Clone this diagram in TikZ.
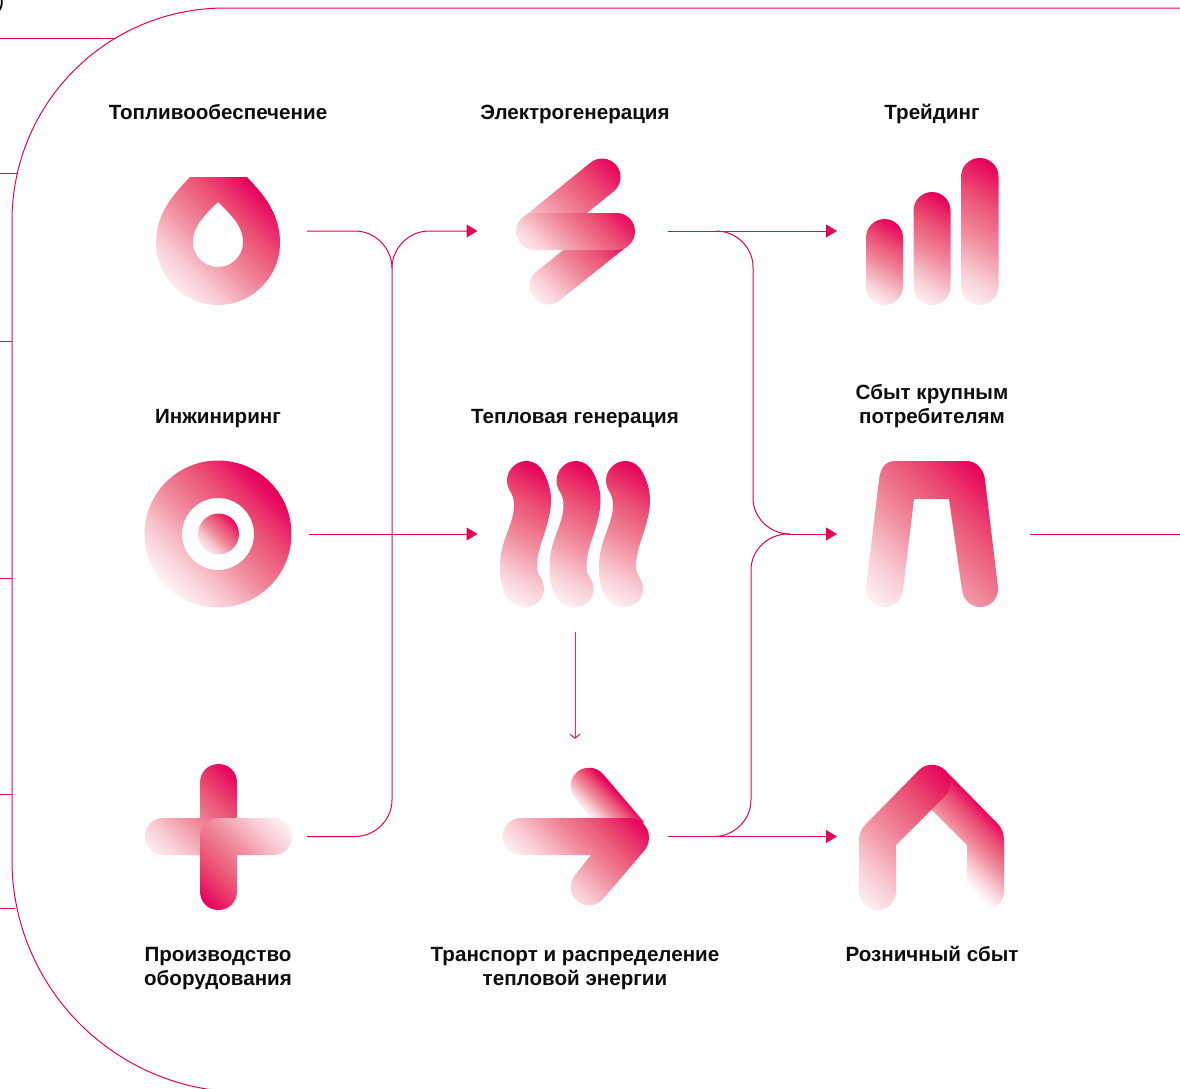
\documentclass[tikz,border=0pt]{standalone}
\usepackage{fontspec}
\setmainfont{Liberation Sans}
\usetikzlibrary{arrows.meta}
\definecolor{pk}{HTML}{E6005A}
\definecolor{pka}{HTML}{F9CDD5}
\definecolor{pkb}{HTML}{F08A9C}
\definecolor{pkc}{HTML}{EB4F74}
\pgfdeclareverticalshading{pinkgrad}{100bp}{color(0bp)=(white); color(42.5bp)=(white); color(45.94bp)=(pka); color(49.38bp)=(pkb); color(52.81bp)=(pkc); color(56.25bp)=(pk); color(100bp)=(pk)}
% cx cy L angle path: gradient of length L about (cx,cy), clipped by the path
\newcommand\gpath[5]{\begin{scope}[even odd rule]\clip #5;\shade[shading=pinkgrad,shading angle=#4] ({#1-2*#3},{#2-2*#3}) rectangle ({#1+2*#3},{#2+2*#3});\end{scope}}
\tikzset{
 link/.style={draw=pk,line width=1pt},
 flow/.style={link,-{Triangle[length=11pt,width=13pt]}},
 thin flow/.style={draw=pk!85,line width=1pt,-{Straight Barb[length=4pt,width=10pt,line width=1.2pt]}},
 label/.style={font=\fontsize{20.6}{24}\selectfont\bfseries,align=center,text=black!95,inner sep=0pt},
 one/.style={label,anchor=base},
}
\newcommand\heat{(526,461) .. controls (534,461) and (541,466) .. (544,473) .. controls (548,481) and (551,490) .. (551,500) .. controls (551,525) and (537,545) .. (537,566) .. controls (537,572) and (539,575) .. (541,578) .. controls (543,582) and (544,585) .. (544,589) .. controls (544,599) and (536,607) .. (526,607) .. controls (512,607) and (504,597) .. (502,585) .. controls (500,578) and (500,572) .. (500,566) .. controls (500,540) and (514,525) .. (514,505) .. controls (514,498) and (512,494) .. (510,491) .. controls (508,488) and (507,484) .. (507,480) .. controls (507,470) and (516,461) .. (526,461) -- cycle}
\begin{document}
\begin{tikzpicture}[x=1pt,y=-1pt]
\useasboundingbox (0,0) rectangle (1180,1088);
% coordinates of connector ends
\coordinate (fa) at (307,231);\coordinate (fb) at (307,836.5);\coordinate (fc) at (477.5,231);
\coordinate (ja) at (392,268);\coordinate (jb) at (392,800);
\coordinate (ea) at (309,534);\coordinate (eb) at (477.5,534);
\coordinate (ga) at (668,231);\coordinate (gb) at (837,231);
\coordinate (ha) at (668,836.5);\coordinate (hb) at (837,836.5);
\coordinate (ka) at (788,534);\coordinate (kb) at (837,534);
\coordinate (ra) at (1030,534);\coordinate (rb) at (1180,534);
\coordinate (da) at (575,632);\coordinate (db) at (575,739);
\coordinate (fr1) at (1180,8);
% frame stubs
\coordinate (s1a) at (0,38);\coordinate (s1b) at (115.5,38);
\coordinate (s2a) at (0,173);\coordinate (s2b) at (17.5,173);
\coordinate (s3a) at (0,341);\coordinate (s3b) at (12,341);
\coordinate (s4a) at (0,578);\coordinate (s4b) at (12,578);
\coordinate (s5a) at (0,794);\coordinate (s5b) at (12,794);
\coordinate (s6a) at (0,908.5);\coordinate (s6b) at (15,908.5);
\foreach \i in {1,...,6} \draw[link] (s\i a) -- (s\i b);
\draw[link] (fr1) -- (225,8) .. controls (107,8) and (12,103) .. (12,221) -- (12,860) .. controls (12,988) and (116,1092) .. (244,1092);
\node[font=\fontsize{21}{24}\selectfont\itshape,inner sep=0pt,text=black] (paren) at (0.5,5) {)};
% connectors
\draw[link] (fa) -- (355,231) .. controls (375,231) and (392,248) .. (ja) -- (jb) .. controls (392,820) and (375,836.5) .. (355,836.5) -- (fb);
\draw[flow] (ja) .. controls (392,248) and (409,231) .. (429,231) -- (fc);
\draw[flow] (ea) -- (eb);
\draw[flow] (ga) -- (gb);
\draw[link] (716,231) .. controls (736,231) and (753,247) .. (753,267) -- (753,498) .. controls (753,518) and (770,534) .. (790,534);
\draw[flow] (ha) -- (hb);
\draw[link] (714,836.5) .. controls (734,836.5) and (751,820) .. (751,800) -- (751,570) .. controls (751,550) and (768,534) .. (ka);
\draw[flow] (ka) -- (kb);
\draw[link] (ra) -- (rb);
\draw[thin flow] (da) -- (db);
% drop
\gpath{215}{237.5}{131}{-45}{(190,177) .. controls (175,193) and (156,212) .. (156,243) .. controls (156,277) and (184,305) .. (218,305) .. controls (252,305) and (280,277) .. (280,243) .. controls (280,212) and (262,193) .. (247,177) -- cycle (218,202) .. controls (207,213) and (193,225) .. (193,242) .. controls (193,256) and (204,267) .. (218,267) .. controls (232,267) and (243,256) .. (243,242) .. controls (243,225) and (229,213) .. (218,202) -- cycle}
% lightning
\gpath{568}{204}{125}{-45}{[shift={(535,231.5)},rotate=39.1,rounded corners=18.5pt] (-18.5,-18.5) rectangle (104.9,18.5)}
\gpath{584}{273}{105}{-45}{[shift={(548,286)},rotate=38.7,rounded corners=18.5pt] (-18.5,-18.5) rectangle (105.6,18.5)}
\gpath{575.5}{231.5}{100}{-45}{[rounded corners=18.5pt] (516,213) rectangle (635,250)}
% bars
\gpath{884.5}{262}{78}{-30}{[rounded corners=18.5pt] (866,219) rectangle (903,305)}
\gpath{932}{249}{101}{-30}{[rounded corners=18.5pt] (913.5,192) rectangle (950.5,305)}
\gpath{980}{232}{130}{-30}{[rounded corners=18.5pt] (961,158) rectangle (998.5,305)}
% ring
\gpath{218}{534}{140}{-45}{(218,534) circle[radius=73.5] (218,534) circle[radius=36]}
\gpath{218.5}{534}{42}{-45}{(218.5,534) circle[radius=20.5]}
% heat
\gpath{526}{534}{130}{-30}{\heat}
\begin{scope}[xshift=49.5pt]\gpath{526}{534}{130}{-30}{\heat}\end{scope}
\begin{scope}[xshift=99pt]\gpath{526}{534}{130}{-30}{\heat}\end{scope}
% pi shape
\gpath{925}{531}{168}{-45}{(895,461) -- (967,461) .. controls (976,461) and (984,469) .. (985,480) -- (998,587) .. controls (999,598) and (991,607) .. (980,607) .. controls (971,607) and (963,600) .. (962,590) -- (949,499) -- (914,499) -- (903,590) .. controls (902,600) and (893,607) .. (884,607) .. controls (873,607) and (865,597) .. (866,587) -- (879,480) .. controls (880,469) and (885,461) .. (895,461) -- cycle}
% plus
\gpath{190}{809}{115}{-45}{(200,782.5) .. controls (200,772) and (208,764) .. (218.5,764) .. controls (229,764) and (237,772) .. (237,782.5) -- (237,855) -- (163.5,855) .. controls (153,855) and (145,847) .. (145,836.5) .. controls (145,826) and (153,818) .. (163.5,818) -- (200,818) -- cycle}
\gpath{245}{865}{113}{135}{(219,818) -- (273.5,818) .. controls (284,818) and (292,826) .. (292,836.5) .. controls (292,847) and (284,855) .. (273.5,855) -- (237,855) -- (237,891.5) .. controls (237,902) and (229,910) .. (218.5,910) .. controls (208,910) and (200,902) .. (200,891.5) -- (200,837) .. controls (200,827) and (208,818) .. (219,818) -- cycle}
% arrow
\gpath{610}{810}{36}{-45}{(603,774) .. controls (596,766) and (584,766) .. (577,772) .. controls (569,779) and (569,790) .. (575,798) -- (591,818) -- (591,825) -- (640,825) -- (644,822) -- cycle}
\gpath{590}{850}{113}{-45}{(521,818) -- (631,818) .. controls (640,818) and (649,827) .. (649,837) .. controls (649,843) and (647,848) .. (644,851) -- (603,899) .. controls (596,907) and (584,907) .. (577,901) .. controls (569,894) and (569,883) .. (575,875) -- (591,855) -- (521,855) .. controls (511,855) and (502.5,847) .. (502.5,836.5) .. controls (502.5,826) and (511,818) .. (521,818) -- cycle}
% house
\gpath{976}{843}{62}{-45}{(932,770) -- (945,770) -- (999,825) .. controls (1002,829) and (1004,834) .. (1004,840) -- (1004,891) .. controls (1004,901) and (996,910) .. (985.5,910) .. controls (975,910) and (967,901) .. (967,891) -- (967,845) -- (918,796) -- cycle}
\gpath{905}{837.5}{152}{-45}{(859,891) -- (859,840) .. controls (859,834) and (861,829) .. (865,825) -- (919,770) .. controls (926,763) and (938,763) .. (945,770) .. controls (952,777) and (952,789) .. (945,796) -- (896,845) -- (896,891) .. controls (896,901) and (888,910) .. (877.5,910) .. controls (867,910) and (859,901) .. (859,891) -- cycle}
% labels
\node[one] (l1) at (218,119.5) {Топливообеспечение};
\node[one] (l2) at (575,119.5) {Электрогенерация};
\node[one] (l3) at (932,119.5) {Трейдинг};
\node[one] (l4) at (218,423) {Инжиниринг};
\node[one] (l5) at (575,423) {Тепловая генерация};
\node[label] (l6) at (932,406) {Сбыт крупным\\потребителям};
\node[label] (l7) at (218,969) {Производство\\оборудования};
\node[label] (l8) at (575,969) {Транспорт и распределение\\тепловой энергии};
\node[one] (l9) at (932,961) {Розничный сбыт};
\end{tikzpicture}
\end{document}
